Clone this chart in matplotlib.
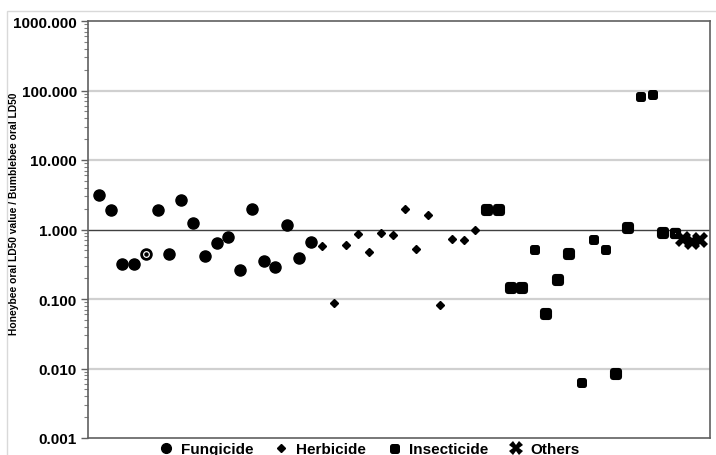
import numpy as np
import matplotlib
matplotlib.use("Agg")
import matplotlib.pyplot as plt
from matplotlib.markers import MarkerStyle
from matplotlib.patches import Rectangle
from matplotlib.ticker import LogLocator, FuncFormatter, NullFormatter

plt.rcParams['font.family'] = ['Liberation Sans', 'DejaVu Sans']

# ratio values (x = position along the axis)
fung_y = [3.1, 1.88, 0.32, 0.32, 0.45, 1.88, 0.44, 2.7, 1.26, 0.42,
          0.63, 0.77, 0.26, 1.94, 0.35, 0.29, 1.18, 0.39, 0.67]
fung_open = [5]  # hollow ring marker

herb_y = [0.57, 0.089, 0.59, 0.87, 0.48, 0.88, 0.82, 2.0, 0.53, 1.6,
          0.083, 0.72, 0.70, 0.98]

insect_y = [1.88, 1.88, 0.142, 0.142, 0.53, 0.060, 0.19, 0.45, 0.0063, 0.74,
            0.52, 0.0082, 1.05, 82, 89, 0.9, 0.88]
insect_big = [1, 1, 1, 1, 0, 1, 1, 1, 0, 0, 0, 1, 1, 0, 0, 1, 0]
insect_open = [50]

others_x = [50.7, 51.4, 52.1]
others_y = [0.72, 0.66, 0.70]

yticks = [0.001, 0.01, 0.1, 1, 10, 100, 1000]

fung_x = np.arange(1, len(fung_y) + 1)
herb_x = np.arange(fung_x[-1] + 1, fung_x[-1] + 1 + len(herb_y))
insect_x = np.arange(herb_x[-1] + 1, herb_x[-1] + 1 + len(insect_y))
insect_y = np.array(insect_y)
insect_big = np.array(insect_big, dtype=bool)

fig = plt.figure(figsize=(7.16, 4.56), dpi=100)
ax = fig.add_axes([88 / 716, 1 - 439 / 456, 622 / 716, 417 / 456])

# outer chart frame
fig.patches.append(Rectangle((7 / 716, -0.05), 1.2, 1 - 12 / 456 + 0.05,
                             transform=fig.transFigure, fill=False,
                             edgecolor='#d9d9d9', linewidth=1, zorder=0))

ax.set_yscale('log')
ax.set_ylim(0.001, 1000)
ax.set_xlim(0.07, 52.96)

for t in yticks[1:-1]:
    if t == 1:
        ax.axhline(t, color='#404040', linewidth=1.0, zorder=1)
    else:
        ax.axhline(t, color='#d0d0d0', linewidth=1.6, zorder=1)

sq = MarkerStyle('s', joinstyle='round')

# fungicide
fx = np.array([x for x in fung_x if x not in fung_open])
fy = np.array([y for x, y in zip(fung_x, fung_y) if x not in fung_open])
ax.plot(fx, fy, 'o', color='black', markersize=8, linestyle='none', zorder=3)
for x in fung_open:
    y = fung_y[x - 1]
    ax.plot(x, y, 'o', markerfacecolor='white', markeredgecolor='black',
            markeredgewidth=2.0, markersize=7, zorder=3)
    ax.plot(x, y, 'o', color='black', markersize=2.2, zorder=4)

# herbicide
ax.plot(herb_x, herb_y, 'D', color='black', markersize=4.5, linestyle='none', zorder=3)

# insecticide
mask_open = np.isin(insect_x, insect_open)
big = insect_big & ~mask_open
small = ~insect_big & ~mask_open
ax.plot(insect_x[big], insect_y[big], linestyle='none', marker=sq, color='black',
        markersize=4.8, markeredgewidth=4.4, zorder=3)
ax.plot(insect_x[small], insect_y[small], linestyle='none', marker=sq, color='black',
        markersize=3.6, markeredgewidth=3.6, zorder=3)
ax.plot(insect_x[mask_open], insect_y[mask_open], linestyle='none', marker=sq,
        markerfacecolor='white', markeredgecolor='black', markersize=4.4,
        markeredgewidth=3.8, zorder=3)

# others
ax.plot(others_x, others_y, 'X', color='black', markersize=11, linestyle='none',
        markeredgewidth=0, zorder=4)

ax.set_yticks(yticks)
ax.yaxis.set_major_formatter(FuncFormatter(lambda v, p: f"{v:.3f}"))
ax.yaxis.set_minor_locator(LogLocator(base=10, subs=np.arange(2, 10), numticks=20))
ax.yaxis.set_minor_formatter(NullFormatter())
ax.tick_params(axis='y', which='major', length=5, width=1, color='#606060',
               labelsize=11, pad=3)
ax.tick_params(axis='y', which='minor', length=3, width=0.8, color='#808080')
for lab in ax.get_yticklabels():
    lab.set_fontweight('bold')
ax.set_xticks([])

for s in ax.spines.values():
    s.set_color('#606060')
    s.set_linewidth(1.2)

fig.text(14 / 716, 1 - 214 / 456, 'Honeybee oral LD50 value / Bumblebee oral LD50',
         rotation=90, ha='center', va='center', fontsize=7.4, fontweight='bold')

# legend
h1, = ax.plot([], [], 'o', color='black', markersize=7)
h2, = ax.plot([], [], 'D', color='black', markersize=4.5)
h3, = ax.plot([], [], linestyle='none', marker=sq, color='black', markersize=3.6,
              markeredgewidth=3.6)
h4, = ax.plot([], [], 'X', color='black', markersize=10, markeredgewidth=0)
fig.legend([h1, h2, h3, h4], ['Fungicide', 'Herbicide', 'Insecticide', 'Others'],
           loc='center', bbox_to_anchor=(369 / 716, 1 - 450 / 456), ncol=4,
           frameon=False, handlelength=1.0, handletextpad=0.5, columnspacing=1.3,
           prop={'weight': 'bold', 'size': 11})

fig.savefig('out.png', dpi=100)
